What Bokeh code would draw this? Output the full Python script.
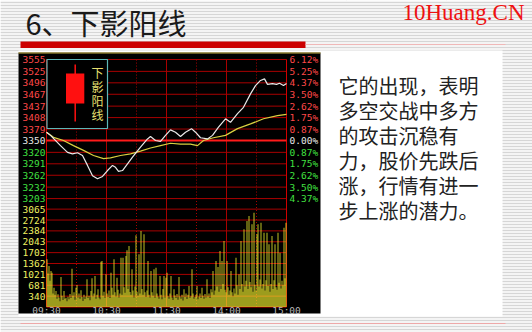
from bokeh.plotting import figure
from bokeh.models import Range1d
from bokeh.embed import file_html
from bokeh.resources import INLINE
from bokeh.core.properties import value

# ---- intraday data (minutes after 09:30, lunch break removed) ----
price_t = [0, 4, 14, 21, 26, 31, 36, 41, 46, 51, 56, 61, 66, 69, 72, 76, 81, 86, 94,
           101, 104, 109, 114, 119, 124, 129, 134, 139, 145, 149, 154, 161, 166, 172,
           179, 184, 191, 197, 204, 209, 214, 218, 221, 226, 230, 233, 237, 240]
price_v = [3371, 3363, 3337, 3320, 3316, 3319, 3312, 3287, 3261, 3253, 3259, 3274,
           3287, 3282, 3272, 3274, 3291, 3308, 3333, 3354, 3360, 3350, 3348, 3363,
           3377, 3371, 3360, 3371, 3380, 3371, 3357, 3354, 3363, 3384, 3405, 3396,
           3418, 3434, 3468, 3489, 3502, 3506, 3492, 3494, 3492, 3495, 3489, 3494]

avg_t = [0, 7, 17, 27, 37, 47, 57, 64, 74, 84, 94, 104, 114, 124, 134, 144, 151,
         157, 167, 179, 191, 204, 217, 231, 240]
avg_v = [3371, 3358, 3350, 3337, 3325, 3312, 3304, 3306, 3312, 3316, 3323, 3331,
         3337, 3343, 3341, 3341, 3337, 3350, 3357, 3363, 3380, 3392, 3405, 3413, 3416]

volume = [
    1494, 1050, 1284, 820, 1128, 1074, 420, 604, 380, 501, 260, 397, 300, 180, 940, 350, 220, 500, 260, 291,
    180, 320, 240, 410, 280, 1200, 350, 460, 230, 604, 689, 300, 420, 260, 523, 310, 190, 380, 250, 330,
    867, 280, 350, 210, 500, 899, 330, 420, 971, 260, 380, 554, 300, 240, 1419, 1441, 350, 480, 290, 1024,
    420, 310, 520, 280, 1074, 604, 380, 1494, 460, 330, 918, 540, 300, 420, 1544, 380, 1544, 620, 450, 1597,
    1776, 560, 1910, 470, 380, 1181, 520, 300, 640, 2245, 480, 350, 1650, 420, 2380, 560, 380, 2277, 460, 310,
    520, 1441, 380, 300, 1128, 460, 350, 1181, 290, 1231, 420, 330, 260, 971, 380, 240, 560, 971, 300, 918,
    1074, 340, 260, 420, 971, 300, 220, 554, 360, 280, 410, 230, 940, 330, 260, 380, 200, 554, 310, 420,
    250, 380, 658, 290, 340, 1181, 420, 260, 310, 380, 658, 240, 330, 420, 280, 604, 350, 260, 410, 300,
    867, 330, 420, 280, 554, 460, 1128, 380, 520, 1441, 640, 1253, 480, 1754, 560, 1441, 720, 2067, 540, 460,
    1441, 620, 380, 520, 1128, 460, 340, 580, 420, 1544, 680, 380, 1024, 560, 2067, 720, 480, 2434, 640, 820,
    2694, 560, 2850, 780, 620, 2590, 480, 2954, 700, 520, 2277, 2590, 640, 860, 2640, 580, 720, 2327, 520, 840,
    2327, 660, 1964, 480, 720, 2224, 560, 840, 1964, 620, 540, 2327, 760, 1700, 580, 820, 680, 2484, 900, 2640,
]

# ---- axis labels ----
base_price = 3350
price_ticks = [3555, 3525, 3496, 3467, 3437, 3408, 3379, 3350, 3320, 3291, 3262, 3232, 3203]
pct_labels = ["6.12%", "5.25%", "4.37%", "3.50%", "2.62%", "1.75%", "0.87%", "0.00%",
              "0.87%", "1.75%", "2.62%", "3.50%", "4.37%"]
vol_ticks = [3065, 2724, 2384, 2043, 1703, 1362, 1021, 681, 340]
time_ticks = [0, 60, 120, 180, 240]
time_labels = ["09:30", "10:30", "11:30", "14:00", "15:00"]
half_hours = [30, 90, 150, 210]

title = "6、下影阳线"
brand = "10Huang.CN"
inset_caption = ["下", "影", "阳", "线"]
body_lines = ["它的出现，表明", "多空交战中多方", "的攻击沉稳有",
              "力，股价先跌后", "涨，行情有进一", "步上涨的潜力。"]

W, H = 532, 332

# price scale: 0% line sits 140px from the top, one 0.875% step spans 11.58px
step = base_price * 0.00875
ppx = step / 11.58
p_top = base_price + 140 * ppx
p_bot = base_price - (H - 140) * ppx
# volume scale: zero line 306.5px from the top, 340.6 lots per 10.875px
vpx = 340.6 / 10.875
v_top = 306.5 * vpx
v_bot = -(H - 306.5) * vpx

p = figure(width=W, height=H, output_backend="svg", toolbar_location=None,
           x_range=Range1d(-46, W - 46), y_range=Range1d(p_bot, p_top),
           x_axis_location=None, y_axis_location=None, min_border=0,
           outline_line_color=None, background_fill_color="white",
           border_fill_color="white")
p.extra_x_ranges = {"page": Range1d(0, W)}
p.extra_y_ranges = {"page": Range1d(H, 0), "vol": Range1d(v_bot, v_top)}

PG = dict(x_range_name="page", y_range_name="page")

# slide background: striped template with a white content panel
p.quad(left=0, right=W, top=0, bottom=H, fill_color="#f4f4f4",
       hatch_pattern="horizontal_line", hatch_color="#d6d6d6", hatch_scale=3,
       hatch_weight=1, line_color=None, **PG)
p.quad(left=18, right=502, top=50, bottom=316, fill_color="white", line_color=None, **PG)

# title bar
p.quad(left=20, right=305, top=41, bottom=47.5, fill_color="#cc0000", line_color=None, **PG)
p.segment(x0=305, x1=505, y0=44, y1=44, line_color="#f0b8b8", line_width=1, **PG)
p.segment(x0=20, x1=505, y0=323, y1=323, line_color="#eea8a8", line_width=1, **PG)
p.text(x=[25], y=[21], text=[title], text_font=value("Noto Sans CJK SC"),
       text_font_size="29px", text_color="#1a1a1a", text_baseline="middle", **PG)
p.text(x=[524], y=[12], text=[brand], text_font=value("Liberation Serif"),
       text_font_size="23px", text_color="#ee1111", text_align="right",
       text_baseline="middle", **PG)

# chart panel
p.quad(left=18, right=320, top=52, bottom=313, fill_color="black", line_color=None, **PG)
p.segment(x0=18, x1=320, y0=52.5, y1=52.5, line_color="#c8b040", line_width=1, **PG)

grid_c = "#a80000"
# horizontal grid: price panel
p.segment(x0=0, x1=240, y0=price_ticks, y1=price_ticks, line_color=grid_c, line_width=1)
# horizontal grid: volume panel
p.segment(x0=0, x1=240, y0=vol_ticks, y1=vol_ticks, line_color=grid_c, line_width=1,
          y_range_name="vol")
# vertical grid
vol_panel_top = vol_ticks[0] + 340.6
for xs, dash in ((time_ticks[1:-1], "solid"), (half_hours, "1 2")):
    p.segment(x0=xs, x1=xs, y0=price_ticks[-1], y1=price_ticks[0], line_color=grid_c,
              line_dash=dash)
    p.segment(x0=xs, x1=xs, y0=0, y1=vol_panel_top, line_color=grid_c,
              line_dash=dash, y_range_name="vol")
# frame borders
edge_c = "#d00000"
for xe in (time_ticks[0], time_ticks[-1]):
    p.segment(x0=xe, x1=xe, y0=price_ticks[-1], y1=price_ticks[0], line_color=edge_c)
    p.segment(x0=xe, x1=xe, y0=0, y1=vol_panel_top, line_color=edge_c, y_range_name="vol")
p.segment(x0=0, x1=240, y0=0, y1=0, line_color=edge_c, y_range_name="vol")
# previous close
p.segment(x0=0, x1=240, y0=base_price, y1=base_price, line_color="#ff1a1a", line_width=2)

# inset legend: hammer-style candle
p.quad(left=46.5, right=107, top=59, bottom=128, fill_color="black",
       line_color="#5cb8b8", line_width=1.2, **PG)
p.segment(x0=74.7, x1=74.7, y0=64, y1=121, line_color="#ff1010", line_width=1.5, **PG)
p.quad(left=65.5, right=83.8, top=73, bottom=103, fill_color="#ff1010", line_color=None, **PG)
p.text(x=[97] * 4, y=[72, 86, 100, 114], text=inset_caption,
       text_font=value("Noto Sans CJK SC"), text_font_size="12px", text_color="#e8e070",
       text_align="center", text_baseline="middle", **PG)

# volume bars
p.vbar(x=[i + 0.5 for i in range(len(volume))], top=volume, bottom=0, width=0.75,
       fill_color="#ffff30", line_color=None, y_range_name="vol")

# average price and last price
p.line(avg_t, avg_v, line_color="#d8d040", line_width=1.2)
p.line(price_t, price_v, line_color="#e8e8e8", line_width=1.2)

# axis labels
mono = value("DejaVu Sans Mono")
lab_cols = ["#ff4848" if v > base_price else ("#e8e8e8" if v == base_price else "#40e040")
            for v in price_ticks]
p.text(x=[45] * len(price_ticks), y=price_ticks, text=[str(v) for v in price_ticks],
       text_color=lab_cols, text_font=mono, text_font_size="9.5px",
       text_align="right", text_baseline="middle", x_range_name="page")
p.text(x=[289] * len(price_ticks), y=price_ticks, text=pct_labels,
       text_color=lab_cols, text_font=mono, text_font_size="9.5px",
       text_align="left", text_baseline="middle", x_range_name="page")
p.text(x=[45] * len(vol_ticks), y=vol_ticks, text=[str(v) for v in vol_ticks],
       text_color="#f0f060", text_font=mono, text_font_size="9.5px",
       text_align="right", text_baseline="middle", x_range_name="page", y_range_name="vol")
p.text(x=time_ticks, y=[310] * len(time_ticks), text=time_labels,
       text_color="#b8b8b8", text_font=mono, text_font_size="9.5px",
       text_align="center", text_baseline="middle", y_range_name="page")

# commentary
p.text(x=[338] * len(body_lines), y=[85 + 25 * i for i in range(len(body_lines))],
       text=body_lines, text_font=value("Noto Sans CJK SC"), text_font_size="20px",
       text_color="#222222", text_baseline="middle", **PG)

open("out.html", "w").write(file_html(p, INLINE))
